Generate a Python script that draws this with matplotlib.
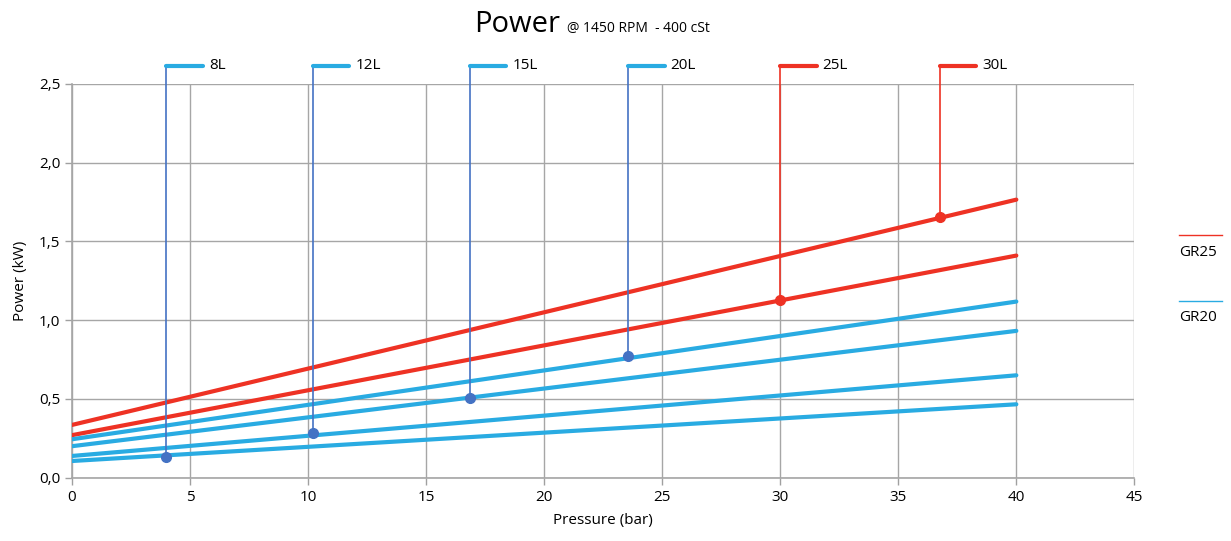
import matplotlib
matplotlib.use('Agg')
import matplotlib.pyplot as plt
import numpy as np

plt.rcParams['font.family'] = ['Open Sans', 'DejaVu Sans']

# pressure range of every curve (bar)
pressure = [0, 40]

# power curves (kW) at 0 and 40 bar
gr25_curves = {
    '30L': [0.335, 1.765],
    '25L': [0.27, 1.41],
}
gr20_curves = {
    '20L': [0.244, 1.118],
    '15L': [0.20, 0.932],
    '12L': [0.138, 0.65],
    '8L': [0.106, 0.466],
}

# marker points (pressure, power) for each displacement
marker_labels = ['8L', '12L', '15L', '20L', '25L', '30L']
marker_x = [4.0, 10.2, 16.85, 23.55, 30.0, 36.75]
marker_y = [0.13, 0.285, 0.505, 0.77, 1.13, 1.655]
marker_group = ['GR20', 'GR20', 'GR20', 'GR20', 'GR25', 'GR25']

RED = '#EE3224'
BLUE = '#29ABE2'
STEEL = '#4472C4'

fig = plt.figure(figsize=(12.31, 5.41), dpi=100)
ax = fig.add_axes([0.0585, 0.117, 0.863, 0.728])

for name, vals in gr25_curves.items():
    ax.plot(pressure, vals, color=RED, linewidth=3, solid_capstyle='round', zorder=3)
for name, vals in gr20_curves.items():
    ax.plot(pressure, vals, color=BLUE, linewidth=3, solid_capstyle='round', zorder=3)

flag_top = 2.615
flag_len = 1.55
for lab, x, y, grp in zip(marker_labels, marker_x, marker_y, marker_group):
    vcol = RED if grp == 'GR25' else STEEL
    hcol = RED if grp == 'GR25' else BLUE
    ax.plot([x, x], [y, flag_top], color=vcol, linewidth=1.2, zorder=4, clip_on=False)
    ax.plot([x, x + flag_len], [flag_top, flag_top], color=hcol, linewidth=3,
            solid_capstyle='round', zorder=4, clip_on=False)
    ax.plot(x, y, 'o', color=vcol, markersize=7, zorder=5)
    ax.text(x + flag_len + 0.25, flag_top, lab, fontsize=11, va='center', ha='left')

ax.set_xlim(0, 45)
ax.set_ylim(0, 2.5)
ax.set_xticks(np.arange(0, 46, 5))
ax.set_yticks(np.arange(0, 2.51, 0.5))
ax.set_yticklabels([f'{v:.1f}'.replace('.', ',') for v in np.arange(0, 2.51, 0.5)])
ax.tick_params(labelsize=11, color='#A0A0A0', length=5, width=1)
ax.grid(True, color='#A6A6A6', linewidth=1)
ax.set_axisbelow(True)
for s in ['top', 'right']:
    ax.spines[s].set_visible(False)
for s in ['left', 'bottom']:
    ax.spines[s].set_color('#A6A6A6')
    ax.spines[s].set_linewidth(1.2)

ax.set_xlabel('Pressure (bar)', fontsize=11, labelpad=6)
ax.set_ylabel('Power (kW)', fontsize=11, labelpad=8)

fig.text(0.455, 0.955, 'Power', fontsize=21, ha='right', va='center')
fig.text(0.461, 0.948, '@ 1450 RPM  - 400 cSt', fontsize=10, ha='left', va='center')

# legend on the right
fig.add_artist(plt.Line2D([0.958, 0.993], [0.565, 0.565], color=RED, linewidth=1, transform=fig.transFigure))
fig.text(0.958, 0.533, 'GR25', fontsize=11, ha='left', va='center')
fig.add_artist(plt.Line2D([0.958, 0.993], [0.443, 0.443], color=BLUE, linewidth=1, transform=fig.transFigure))
fig.text(0.958, 0.413, 'GR20', fontsize=11, ha='left', va='center')

fig.savefig('out.png', dpi=100, facecolor='white')
